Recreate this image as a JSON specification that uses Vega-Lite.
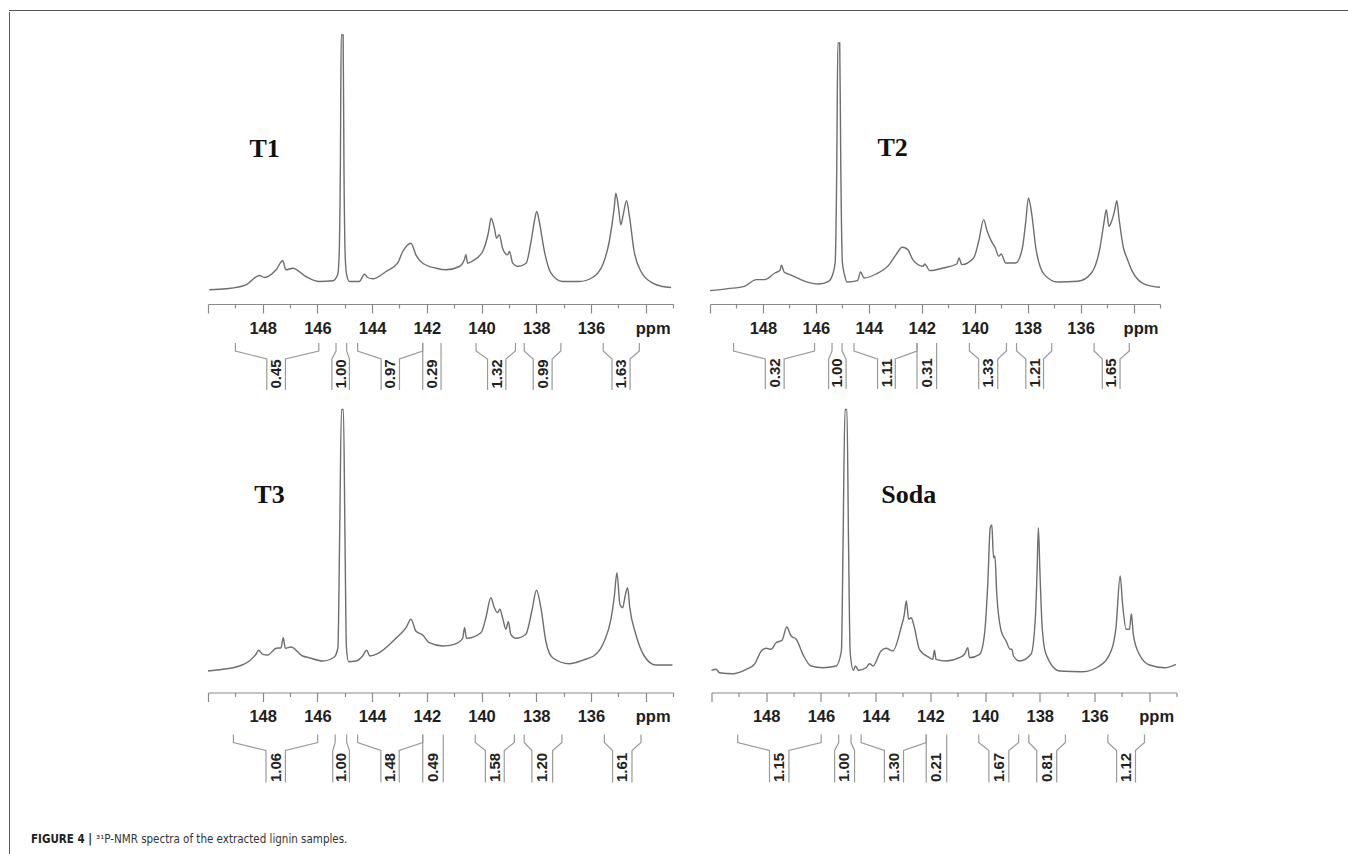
{
"$schema": "https://vega.github.io/schema/vega-lite/v6.json",
"padding": {"left": 8, "top": 10, "right": 0, "bottom": 0},
"background": "white",
"config": {"view": {"stroke": null}},
"title": {"text": "³¹P-NMR spectra of the extracted lignin samples.", "orient": "bottom", "anchor": "start", "frame": "group", "offset": -22, "dx": 87, "font": "Liberation Sans Narrow, DejaVu Sans Condensed, Liberation Sans, sans-serif", "fontSize": 11.5, "fontWeight": "normal", "color": "#333333"},
"datasets": {
"spec": [
{"s":"T1","x":149.95,"y":14.2},{"s":"T1","x":149.34,"y":15.2},{"s":"T1","x":148.61,"y":19.2},{"s":"T1","x":148.12,"y":28.5},{"s":"T1","x":147.94,"y":26.5},{"s":"T1","x":147.51,"y":34.2},{"s":"T1","x":147.27,"y":43.2},{"s":"T1","x":147.15,"y":34.2},{"s":"T1","x":146.9,"y":35.8},{"s":"T1","x":146.42,"y":27.5},{"s":"T1","x":145.93,"y":22.5},{"s":"T1","x":145.44,"y":23.2},{"s":"T1","x":145.26,"y":29.2},{"s":"T1","x":145.21,"y":45},{"s":"T1","x":145.16,"y":140},{"s":"T1","x":145.13,"y":269},{"s":"T1","x":145.06,"y":269},{"s":"T1","x":145.03,"y":140},{"s":"T1","x":144.98,"y":45},{"s":"T1","x":144.93,"y":29.2},{"s":"T1","x":144.83,"y":22.5},{"s":"T1","x":144.47,"y":22.5},{"s":"T1","x":144.28,"y":29.8},{"s":"T1","x":144.16,"y":26.5},{"s":"T1","x":143.98,"y":25.2},{"s":"T1","x":143.49,"y":32.5},{"s":"T1","x":143.07,"y":40.8},{"s":"T1","x":142.88,"y":52.5},{"s":"T1","x":142.58,"y":60.8},{"s":"T1","x":142.4,"y":49.2},{"s":"T1","x":142.15,"y":40.8},{"s":"T1","x":141.66,"y":35.8},{"s":"T1","x":141.3,"y":34.2},{"s":"T1","x":140.81,"y":37.5},{"s":"T1","x":140.63,"y":44.2},{"s":"T1","x":140.57,"y":49.2},{"s":"T1","x":140.51,"y":40.8},{"s":"T1","x":140.32,"y":43.2},{"s":"T1","x":139.96,"y":52.5},{"s":"T1","x":139.74,"y":72.5},{"s":"T1","x":139.65,"y":85.8},{"s":"T1","x":139.53,"y":75.8},{"s":"T1","x":139.45,"y":65.8},{"s":"T1","x":139.35,"y":69.2},{"s":"T1","x":139.23,"y":55.8},{"s":"T1","x":139.05,"y":49.2},{"s":"T1","x":138.98,"y":52.5},{"s":"T1","x":138.86,"y":40.8},{"s":"T1","x":138.68,"y":37.5},{"s":"T1","x":138.37,"y":40.8},{"s":"T1","x":138.19,"y":62.5},{"s":"T1","x":138.07,"y":82.5},{"s":"T1","x":137.98,"y":92.5},{"s":"T1","x":137.89,"y":82.5},{"s":"T1","x":137.7,"y":52.5},{"s":"T1","x":137.46,"y":30.8},{"s":"T1","x":137.04,"y":22.5},{"s":"T1","x":136.43,"y":22.5},{"s":"T1","x":135.94,"y":26.5},{"s":"T1","x":135.57,"y":39.2},{"s":"T1","x":135.33,"y":62.5},{"s":"T1","x":135.15,"y":95.8},{"s":"T1","x":135.09,"y":110.8},{"s":"T1","x":134.99,"y":95.8},{"s":"T1","x":134.91,"y":79.2},{"s":"T1","x":134.82,"y":89.2},{"s":"T1","x":134.7,"y":103.2},{"s":"T1","x":134.6,"y":89.2},{"s":"T1","x":134.42,"y":52.5},{"s":"T1","x":134.17,"y":32.5},{"s":"T1","x":133.74,"y":20.8},{"s":"T1","x":133.38,"y":17.5},{"s":"T1","x":133.07,"y":16.5},
{"s":"T2","x":150.0,"y":13.4},{"s":"T2","x":149.33,"y":15.4},{"s":"T2","x":148.7,"y":17.7},{"s":"T2","x":148.25,"y":24.4},{"s":"T2","x":147.93,"y":24.4},{"s":"T2","x":147.55,"y":31.0},{"s":"T2","x":147.36,"y":33.4},{"s":"T2","x":147.3,"y":38.7},{"s":"T2","x":147.2,"y":32.0},{"s":"T2","x":146.92,"y":28.7},{"s":"T2","x":146.41,"y":22.7},{"s":"T2","x":145.9,"y":20.0},{"s":"T2","x":145.52,"y":22.7},{"s":"T2","x":145.36,"y":30},{"s":"T2","x":145.27,"y":42},{"s":"T2","x":145.21,"y":140},{"s":"T2","x":145.17,"y":261},{"s":"T2","x":145.1,"y":261},{"s":"T2","x":145.06,"y":140},{"s":"T2","x":145.0,"y":42},{"s":"T2","x":144.92,"y":29.4},{"s":"T2","x":144.82,"y":22.0},{"s":"T2","x":144.43,"y":23.4},{"s":"T2","x":144.31,"y":32.0},{"s":"T2","x":144.18,"y":26.0},{"s":"T2","x":143.73,"y":30.0},{"s":"T2","x":143.23,"y":39.4},{"s":"T2","x":142.97,"y":49.4},{"s":"T2","x":142.74,"y":56.7},{"s":"T2","x":142.53,"y":54.4},{"s":"T2","x":142.34,"y":44.4},{"s":"T2","x":141.95,"y":37.7},{"s":"T2","x":141.89,"y":40.0},{"s":"T2","x":141.7,"y":33.4},{"s":"T2","x":141.19,"y":36.0},{"s":"T2","x":140.68,"y":40.0},{"s":"T2","x":140.59,"y":46.0},{"s":"T2","x":140.49,"y":39.4},{"s":"T2","x":140.04,"y":46.0},{"s":"T2","x":139.85,"y":62.7},{"s":"T2","x":139.66,"y":84.4},{"s":"T2","x":139.53,"y":72.7},{"s":"T2","x":139.38,"y":63.4},{"s":"T2","x":139.22,"y":56.0},{"s":"T2","x":139.09,"y":47.7},{"s":"T2","x":139.0,"y":50.0},{"s":"T2","x":138.83,"y":41.0},{"s":"T2","x":138.45,"y":41.0},{"s":"T2","x":138.2,"y":56.0},{"s":"T2","x":138.07,"y":82.7},{"s":"T2","x":137.97,"y":106.0},{"s":"T2","x":137.86,"y":92.7},{"s":"T2","x":137.69,"y":56.0},{"s":"T2","x":137.37,"y":29.4},{"s":"T2","x":136.86,"y":22.0},{"s":"T2","x":136.1,"y":22.7},{"s":"T2","x":135.59,"y":31.0},{"s":"T2","x":135.27,"y":56.0},{"s":"T2","x":135.11,"y":82.7},{"s":"T2","x":135.03,"y":94.4},{"s":"T2","x":134.93,"y":77.7},{"s":"T2","x":134.83,"y":82.7},{"s":"T2","x":134.72,"y":92.7},{"s":"T2","x":134.63,"y":103.4},{"s":"T2","x":134.55,"y":86.0},{"s":"T2","x":134.38,"y":56.0},{"s":"T2","x":134.25,"y":46.0},{"s":"T2","x":134.06,"y":33.4},{"s":"T2","x":133.55,"y":19.4},{"s":"T2","x":133.0,"y":16.7},
{"s":"T3","x":150.0,"y":21.5},{"s":"T3","x":149.46,"y":23.2},{"s":"T3","x":148.85,"y":26.5},{"s":"T3","x":148.49,"y":31.5},{"s":"T3","x":148.25,"y":38.2},{"s":"T3","x":148.15,"y":42.2},{"s":"T3","x":148.0,"y":38.2},{"s":"T3","x":147.82,"y":37.5},{"s":"T3","x":147.51,"y":44.2},{"s":"T3","x":147.33,"y":44.8},{"s":"T3","x":147.25,"y":54.8},{"s":"T3","x":147.17,"y":44.2},{"s":"T3","x":146.97,"y":45.5},{"s":"T3","x":146.54,"y":36.5},{"s":"T3","x":146.3,"y":34.8},{"s":"T3","x":145.81,"y":31.5},{"s":"T3","x":145.38,"y":35.5},{"s":"T3","x":145.25,"y":45},{"s":"T3","x":145.19,"y":150},{"s":"T3","x":145.12,"y":283},{"s":"T3","x":145.05,"y":283},{"s":"T3","x":144.99,"y":150},{"s":"T3","x":144.94,"y":45},{"s":"T3","x":144.86,"y":30.8},{"s":"T3","x":144.59,"y":31.5},{"s":"T3","x":144.35,"y":36.5},{"s":"T3","x":144.2,"y":42.2},{"s":"T3","x":144.08,"y":36.5},{"s":"T3","x":143.8,"y":38.8},{"s":"T3","x":143.13,"y":54.2},{"s":"T3","x":142.76,"y":64.8},{"s":"T3","x":142.58,"y":73.2},{"s":"T3","x":142.4,"y":61.5},{"s":"T3","x":142.15,"y":57.5},{"s":"T3","x":141.91,"y":49.8},{"s":"T3","x":141.42,"y":46.5},{"s":"T3","x":141.0,"y":48.2},{"s":"T3","x":140.69,"y":54.2},{"s":"T3","x":140.62,"y":64.8},{"s":"T3","x":140.55,"y":54.2},{"s":"T3","x":140.02,"y":59.8},{"s":"T3","x":139.84,"y":74.8},{"s":"T3","x":139.66,"y":94.8},{"s":"T3","x":139.53,"y":84.8},{"s":"T3","x":139.41,"y":79.8},{"s":"T3","x":139.33,"y":83.2},{"s":"T3","x":139.23,"y":74.8},{"s":"T3","x":139.11,"y":63.2},{"s":"T3","x":139.02,"y":70.8},{"s":"T3","x":138.93,"y":58.2},{"s":"T3","x":138.74,"y":54.2},{"s":"T3","x":138.38,"y":58.2},{"s":"T3","x":138.16,"y":81.5},{"s":"T3","x":137.99,"y":102.2},{"s":"T3","x":137.83,"y":84.8},{"s":"T3","x":137.65,"y":51.5},{"s":"T3","x":137.4,"y":34.8},{"s":"T3","x":136.79,"y":28.8},{"s":"T3","x":136.31,"y":32.2},{"s":"T3","x":135.82,"y":38.2},{"s":"T3","x":135.51,"y":51.5},{"s":"T3","x":135.27,"y":73.2},{"s":"T3","x":135.15,"y":94.8},{"s":"T3","x":135.05,"y":119.8},{"s":"T3","x":134.94,"y":88.2},{"s":"T3","x":134.84,"y":84.8},{"s":"T3","x":134.75,"y":96.5},{"s":"T3","x":134.66,"y":104.8},{"s":"T3","x":134.58,"y":84.8},{"s":"T3","x":134.36,"y":58.2},{"s":"T3","x":134.05,"y":36.5},{"s":"T3","x":133.63,"y":27.5},{"s":"T3","x":133.02,"y":27.5},
{"s":"Soda","x":150.0,"y":22.2},{"s":"Soda","x":149.83,"y":23.2},{"s":"Soda","x":149.71,"y":19.8},{"s":"Soda","x":149.22,"y":18.8},{"s":"Soda","x":148.73,"y":23.2},{"s":"Soda","x":148.43,"y":28.2},{"s":"Soda","x":148.18,"y":41.5},{"s":"Soda","x":148.0,"y":44.2},{"s":"Soda","x":147.82,"y":43.2},{"s":"Soda","x":147.64,"y":49.8},{"s":"Soda","x":147.42,"y":52.2},{"s":"Soda","x":147.25,"y":65.5},{"s":"Soda","x":147.09,"y":56.5},{"s":"Soda","x":146.9,"y":53.2},{"s":"Soda","x":146.66,"y":38.2},{"s":"Soda","x":146.36,"y":26.5},{"s":"Soda","x":145.93,"y":24.8},{"s":"Soda","x":145.44,"y":26.5},{"s":"Soda","x":145.25,"y":42},{"s":"Soda","x":145.19,"y":150},{"s":"Soda","x":145.12,"y":283},{"s":"Soda","x":145.05,"y":283},{"s":"Soda","x":144.99,"y":150},{"s":"Soda","x":144.93,"y":40},{"s":"Soda","x":144.81,"y":22.2},{"s":"Soda","x":144.74,"y":26.5},{"s":"Soda","x":144.62,"y":22.2},{"s":"Soda","x":144.35,"y":24.8},{"s":"Soda","x":144.22,"y":28.8},{"s":"Soda","x":144.1,"y":26.5},{"s":"Soda","x":143.8,"y":41.5},{"s":"Soda","x":143.62,"y":44.2},{"s":"Soda","x":143.37,"y":41.5},{"s":"Soda","x":143.07,"y":64.8},{"s":"Soda","x":142.95,"y":78.2},{"s":"Soda","x":142.88,"y":91.5},{"s":"Soda","x":142.79,"y":73.2},{"s":"Soda","x":142.7,"y":74.8},{"s":"Soda","x":142.58,"y":64.8},{"s":"Soda","x":142.4,"y":43.2},{"s":"Soda","x":142.03,"y":34.8},{"s":"Soda","x":141.91,"y":33.2},{"s":"Soda","x":141.85,"y":42.2},{"s":"Soda","x":141.79,"y":33.2},{"s":"Soda","x":141.42,"y":31.5},{"s":"Soda","x":140.94,"y":34.8},{"s":"Soda","x":140.75,"y":38.2},{"s":"Soda","x":140.63,"y":44.8},{"s":"Soda","x":140.57,"y":34.8},{"s":"Soda","x":140.2,"y":38.2},{"s":"Soda","x":140.02,"y":58.2},{"s":"Soda","x":139.9,"y":108.2},{"s":"Soda","x":139.81,"y":164.8},{"s":"Soda","x":139.75,"y":167.5},{"s":"Soda","x":139.69,"y":134.8},{"s":"Soda","x":139.64,"y":136.5},{"s":"Soda","x":139.57,"y":98.2},{"s":"Soda","x":139.41,"y":61.5},{"s":"Soda","x":139.23,"y":51.5},{"s":"Soda","x":139.08,"y":43.2},{"s":"Soda","x":139.02,"y":43.2},{"s":"Soda","x":138.96,"y":36.5},{"s":"Soda","x":138.74,"y":31.5},{"s":"Soda","x":138.32,"y":38.2},{"s":"Soda","x":138.16,"y":74.8},{"s":"Soda","x":138.1,"y":118.2},{"s":"Soda","x":138.05,"y":164.8},{"s":"Soda","x":137.99,"y":118.2},{"s":"Soda","x":137.91,"y":64.8},{"s":"Soda","x":137.77,"y":38.2},{"s":"Soda","x":137.28,"y":21.5},{"s":"Soda","x":136.43,"y":20.8},{"s":"Soda","x":135.82,"y":26.5},{"s":"Soda","x":135.39,"y":41.5},{"s":"Soda","x":135.21,"y":65.5},{"s":"Soda","x":135.06,"y":116.5},{"s":"Soda","x":134.97,"y":88.2},{"s":"Soda","x":134.84,"y":63.2},{"s":"Soda","x":134.72,"y":63.2},{"s":"Soda","x":134.65,"y":78.8},{"s":"Soda","x":134.58,"y":58.2},{"s":"Soda","x":134.36,"y":38.2},{"s":"Soda","x":133.99,"y":27.5},{"s":"Soda","x":133.43,"y":24.8},{"s":"Soda","x":133.02,"y":28.2}
],
"br": [
{"s":"T1","k":"aL","o":0,"x":149.0,"y":-39},{"s":"T1","k":"aL","o":1,"x":149.0,"y":-47},{"s":"T1","k":"aL","o":2,"x":147.85,"y":-55},{"s":"T1","k":"aL","o":3,"x":147.85,"y":-86},
{"s":"T1","k":"aR","o":0,"x":145.95,"y":-39},{"s":"T1","k":"aR","o":1,"x":145.95,"y":-47},{"s":"T1","k":"aR","o":2,"x":147.17,"y":-55},{"s":"T1","k":"aR","o":3,"x":147.17,"y":-86},
{"s":"T1","k":"bL","o":0,"x":145.32,"y":-39},{"s":"T1","k":"bL","o":1,"x":145.32,"y":-47},{"s":"T1","k":"bL","o":2,"x":145.47,"y":-55},{"s":"T1","k":"bL","o":3,"x":145.47,"y":-86},
{"s":"T1","k":"bR","o":0,"x":144.93,"y":-39},{"s":"T1","k":"bR","o":1,"x":144.93,"y":-47},{"s":"T1","k":"bR","o":2,"x":144.83,"y":-55},{"s":"T1","k":"bR","o":3,"x":144.83,"y":-86},
{"s":"T1","k":"cL","o":0,"x":144.53,"y":-39},{"s":"T1","k":"cL","o":1,"x":144.53,"y":-47},{"s":"T1","k":"cL","o":2,"x":143.67,"y":-55},{"s":"T1","k":"cL","o":3,"x":143.67,"y":-86},
{"s":"T1","k":"cR","o":0,"x":142.15,"y":-39},{"s":"T1","k":"cR","o":1,"x":142.15,"y":-47},{"s":"T1","k":"cR","o":2,"x":143.0,"y":-55},{"s":"T1","k":"cR","o":3,"x":143.0,"y":-86},
{"s":"T1","k":"dL","o":0,"x":142.15,"y":-39},{"s":"T1","k":"dL","o":1,"x":142.15,"y":-86},
{"s":"T1","k":"dR","o":0,"x":141.48,"y":-39},{"s":"T1","k":"dR","o":1,"x":141.48,"y":-86},
{"s":"T1","k":"eL","o":0,"x":140.2,"y":-39},{"s":"T1","k":"eL","o":1,"x":140.2,"y":-47},{"s":"T1","k":"eL","o":2,"x":139.78,"y":-55},{"s":"T1","k":"eL","o":3,"x":139.78,"y":-86},
{"s":"T1","k":"eR","o":0,"x":138.76,"y":-39},{"s":"T1","k":"eR","o":1,"x":138.76,"y":-47},{"s":"T1","k":"eR","o":2,"x":139.11,"y":-55},{"s":"T1","k":"eR","o":3,"x":139.11,"y":-86},
{"s":"T1","k":"fL","o":0,"x":138.44,"y":-39},{"s":"T1","k":"fL","o":1,"x":138.44,"y":-47},{"s":"T1","k":"fL","o":2,"x":138.11,"y":-55},{"s":"T1","k":"fL","o":3,"x":138.11,"y":-86},
{"s":"T1","k":"fR","o":0,"x":137.1,"y":-39},{"s":"T1","k":"fR","o":1,"x":137.1,"y":-47},{"s":"T1","k":"fR","o":2,"x":137.42,"y":-55},{"s":"T1","k":"fR","o":3,"x":137.42,"y":-86},
{"s":"T1","k":"gL","o":0,"x":135.55,"y":-39},{"s":"T1","k":"gL","o":1,"x":135.55,"y":-47},{"s":"T1","k":"gL","o":2,"x":135.23,"y":-55},{"s":"T1","k":"gL","o":3,"x":135.23,"y":-86},
{"s":"T1","k":"gR","o":0,"x":134.23,"y":-39},{"s":"T1","k":"gR","o":1,"x":134.23,"y":-47},{"s":"T1","k":"gR","o":2,"x":134.57,"y":-55},{"s":"T1","k":"gR","o":3,"x":134.57,"y":-86},
{"s":"T2","k":"aL","o":0,"x":149.11,"y":-39},{"s":"T2","k":"aL","o":1,"x":149.11,"y":-47},{"s":"T2","k":"aL","o":2,"x":147.91,"y":-55},{"s":"T2","k":"aL","o":3,"x":147.91,"y":-85},
{"s":"T2","k":"aR","o":0,"x":146.05,"y":-39},{"s":"T2","k":"aR","o":1,"x":146.05,"y":-47},{"s":"T2","k":"aR","o":2,"x":147.2,"y":-55},{"s":"T2","k":"aR","o":3,"x":147.2,"y":-85},
{"s":"T2","k":"bL","o":0,"x":145.39,"y":-39},{"s":"T2","k":"bL","o":1,"x":145.39,"y":-47},{"s":"T2","k":"bL","o":2,"x":145.52,"y":-55},{"s":"T2","k":"bL","o":3,"x":145.52,"y":-85},
{"s":"T2","k":"bR","o":0,"x":145.01,"y":-39},{"s":"T2","k":"bR","o":1,"x":145.01,"y":-47},{"s":"T2","k":"bR","o":2,"x":144.86,"y":-55},{"s":"T2","k":"bR","o":3,"x":144.86,"y":-85},
{"s":"T2","k":"cL","o":0,"x":144.56,"y":-39},{"s":"T2","k":"cL","o":1,"x":144.56,"y":-47},{"s":"T2","k":"cL","o":2,"x":143.67,"y":-55},{"s":"T2","k":"cL","o":3,"x":143.67,"y":-85},
{"s":"T2","k":"cR","o":0,"x":142.18,"y":-39},{"s":"T2","k":"cR","o":1,"x":142.18,"y":-47},{"s":"T2","k":"cR","o":2,"x":143.0,"y":-55},{"s":"T2","k":"cR","o":3,"x":143.0,"y":-85},
{"s":"T2","k":"dL","o":0,"x":142.18,"y":-39},{"s":"T2","k":"dL","o":1,"x":142.18,"y":-85},
{"s":"T2","k":"dR","o":0,"x":141.44,"y":-39},{"s":"T2","k":"dR","o":1,"x":141.44,"y":-85},
{"s":"T2","k":"eL","o":0,"x":140.2,"y":-39},{"s":"T2","k":"eL","o":1,"x":140.2,"y":-47},{"s":"T2","k":"eL","o":2,"x":139.85,"y":-55},{"s":"T2","k":"eL","o":3,"x":139.85,"y":-85},
{"s":"T2","k":"eR","o":0,"x":138.8,"y":-39},{"s":"T2","k":"eR","o":1,"x":138.8,"y":-47},{"s":"T2","k":"eR","o":2,"x":139.13,"y":-55},{"s":"T2","k":"eR","o":3,"x":139.13,"y":-85},
{"s":"T2","k":"fL","o":0,"x":138.42,"y":-39},{"s":"T2","k":"fL","o":1,"x":138.42,"y":-47},{"s":"T2","k":"fL","o":2,"x":138.07,"y":-55},{"s":"T2","k":"fL","o":3,"x":138.07,"y":-85},
{"s":"T2","k":"fR","o":0,"x":137.09,"y":-39},{"s":"T2","k":"fR","o":1,"x":137.09,"y":-47},{"s":"T2","k":"fR","o":2,"x":137.4,"y":-55},{"s":"T2","k":"fR","o":3,"x":137.4,"y":-85},
{"s":"T2","k":"gL","o":0,"x":135.49,"y":-39},{"s":"T2","k":"gL","o":1,"x":135.49,"y":-47},{"s":"T2","k":"gL","o":2,"x":135.18,"y":-55},{"s":"T2","k":"gL","o":3,"x":135.18,"y":-85},
{"s":"T2","k":"gR","o":0,"x":134.16,"y":-39},{"s":"T2","k":"gR","o":1,"x":134.16,"y":-47},{"s":"T2","k":"gR","o":2,"x":134.51,"y":-55},{"s":"T2","k":"gR","o":3,"x":134.51,"y":-85},
{"s":"T3","k":"aL","o":0,"x":149.07,"y":-42},{"s":"T3","k":"aL","o":1,"x":149.07,"y":-50},{"s":"T3","k":"aL","o":2,"x":147.88,"y":-58},{"s":"T3","k":"aL","o":3,"x":147.88,"y":-90},
{"s":"T3","k":"aR","o":0,"x":145.99,"y":-42},{"s":"T3","k":"aR","o":1,"x":145.99,"y":-50},{"s":"T3","k":"aR","o":2,"x":147.17,"y":-58},{"s":"T3","k":"aR","o":3,"x":147.17,"y":-90},
{"s":"T3","k":"bL","o":0,"x":145.35,"y":-42},{"s":"T3","k":"bL","o":1,"x":145.35,"y":-50},{"s":"T3","k":"bL","o":2,"x":145.44,"y":-58},{"s":"T3","k":"bL","o":3,"x":145.44,"y":-90},
{"s":"T3","k":"bR","o":0,"x":144.93,"y":-42},{"s":"T3","k":"bR","o":1,"x":144.93,"y":-50},{"s":"T3","k":"bR","o":2,"x":144.83,"y":-58},{"s":"T3","k":"bR","o":3,"x":144.83,"y":-90},
{"s":"T3","k":"cL","o":0,"x":144.53,"y":-42},{"s":"T3","k":"cL","o":1,"x":144.53,"y":-50},{"s":"T3","k":"cL","o":2,"x":143.68,"y":-58},{"s":"T3","k":"cL","o":3,"x":143.68,"y":-90},
{"s":"T3","k":"cR","o":0,"x":142.15,"y":-42},{"s":"T3","k":"cR","o":1,"x":142.15,"y":-50},{"s":"T3","k":"cR","o":2,"x":143.01,"y":-58},{"s":"T3","k":"cR","o":3,"x":143.01,"y":-90},
{"s":"T3","k":"dL","o":0,"x":142.15,"y":-42},{"s":"T3","k":"dL","o":1,"x":142.15,"y":-90},
{"s":"T3","k":"dR","o":0,"x":141.4,"y":-42},{"s":"T3","k":"dR","o":1,"x":141.4,"y":-90},
{"s":"T3","k":"eL","o":0,"x":140.23,"y":-42},{"s":"T3","k":"eL","o":1,"x":140.23,"y":-50},{"s":"T3","k":"eL","o":2,"x":139.86,"y":-58},{"s":"T3","k":"eL","o":3,"x":139.86,"y":-90},
{"s":"T3","k":"eR","o":0,"x":138.8,"y":-42},{"s":"T3","k":"eR","o":1,"x":138.8,"y":-50},{"s":"T3","k":"eR","o":2,"x":139.17,"y":-58},{"s":"T3","k":"eR","o":3,"x":139.17,"y":-90},
{"s":"T3","k":"fL","o":0,"x":138.44,"y":-42},{"s":"T3","k":"fL","o":1,"x":138.44,"y":-50},{"s":"T3","k":"fL","o":2,"x":138.16,"y":-58},{"s":"T3","k":"fL","o":3,"x":138.16,"y":-90},
{"s":"T3","k":"fR","o":0,"x":137.06,"y":-42},{"s":"T3","k":"fR","o":1,"x":137.06,"y":-50},{"s":"T3","k":"fR","o":2,"x":137.4,"y":-58},{"s":"T3","k":"fR","o":3,"x":137.4,"y":-90},
{"s":"T3","k":"gL","o":0,"x":135.51,"y":-42},{"s":"T3","k":"gL","o":1,"x":135.51,"y":-50},{"s":"T3","k":"gL","o":2,"x":135.21,"y":-58},{"s":"T3","k":"gL","o":3,"x":135.21,"y":-90},
{"s":"T3","k":"gR","o":0,"x":134.17,"y":-42},{"s":"T3","k":"gR","o":1,"x":134.17,"y":-50},{"s":"T3","k":"gR","o":2,"x":134.5,"y":-58},{"s":"T3","k":"gR","o":3,"x":134.5,"y":-90},
{"s":"Soda","k":"aL","o":0,"x":149.04,"y":-42},{"s":"Soda","k":"aL","o":1,"x":149.04,"y":-50},{"s":"Soda","k":"aL","o":2,"x":147.88,"y":-58},{"s":"Soda","k":"aL","o":3,"x":147.88,"y":-90},
{"s":"Soda","k":"aR","o":0,"x":145.99,"y":-42},{"s":"Soda","k":"aR","o":1,"x":145.99,"y":-50},{"s":"Soda","k":"aR","o":2,"x":147.17,"y":-58},{"s":"Soda","k":"aR","o":3,"x":147.17,"y":-90},
{"s":"Soda","k":"bL","o":0,"x":145.35,"y":-42},{"s":"Soda","k":"bL","o":1,"x":145.35,"y":-50},{"s":"Soda","k":"bL","o":2,"x":145.5,"y":-58},{"s":"Soda","k":"bL","o":3,"x":145.5,"y":-90},
{"s":"Soda","k":"bR","o":0,"x":144.9,"y":-42},{"s":"Soda","k":"bR","o":1,"x":144.9,"y":-50},{"s":"Soda","k":"bR","o":2,"x":144.77,"y":-58},{"s":"Soda","k":"bR","o":3,"x":144.77,"y":-90},
{"s":"Soda","k":"cL","o":0,"x":144.53,"y":-42},{"s":"Soda","k":"cL","o":1,"x":144.53,"y":-50},{"s":"Soda","k":"cL","o":2,"x":143.68,"y":-58},{"s":"Soda","k":"cL","o":3,"x":143.68,"y":-90},
{"s":"Soda","k":"cR","o":0,"x":142.15,"y":-42},{"s":"Soda","k":"cR","o":1,"x":142.15,"y":-50},{"s":"Soda","k":"cR","o":2,"x":142.98,"y":-58},{"s":"Soda","k":"cR","o":3,"x":142.98,"y":-90},
{"s":"Soda","k":"dL","o":0,"x":142.15,"y":-42},{"s":"Soda","k":"dL","o":1,"x":142.15,"y":-90},
{"s":"Soda","k":"dR","o":0,"x":141.4,"y":-42},{"s":"Soda","k":"dR","o":1,"x":141.4,"y":-90},
{"s":"Soda","k":"eL","o":0,"x":140.23,"y":-42},{"s":"Soda","k":"eL","o":1,"x":140.23,"y":-50},{"s":"Soda","k":"eL","o":2,"x":139.86,"y":-58},{"s":"Soda","k":"eL","o":3,"x":139.86,"y":-90},
{"s":"Soda","k":"eR","o":0,"x":138.77,"y":-42},{"s":"Soda","k":"eR","o":1,"x":138.77,"y":-50},{"s":"Soda","k":"eR","o":2,"x":139.13,"y":-58},{"s":"Soda","k":"eR","o":3,"x":139.13,"y":-90},
{"s":"Soda","k":"fL","o":0,"x":138.4,"y":-42},{"s":"Soda","k":"fL","o":1,"x":138.4,"y":-50},{"s":"Soda","k":"fL","o":2,"x":138.11,"y":-58},{"s":"Soda","k":"fL","o":3,"x":138.11,"y":-90},
{"s":"Soda","k":"fR","o":0,"x":137.06,"y":-42},{"s":"Soda","k":"fR","o":1,"x":137.06,"y":-50},{"s":"Soda","k":"fR","o":2,"x":137.38,"y":-58},{"s":"Soda","k":"fR","o":3,"x":137.38,"y":-90},
{"s":"Soda","k":"gL","o":0,"x":135.51,"y":-42},{"s":"Soda","k":"gL","o":1,"x":135.51,"y":-50},{"s":"Soda","k":"gL","o":2,"x":135.19,"y":-58},{"s":"Soda","k":"gL","o":3,"x":135.19,"y":-90},
{"s":"Soda","k":"gR","o":0,"x":134.17,"y":-42},{"s":"Soda","k":"gR","o":1,"x":134.17,"y":-50},{"s":"Soda","k":"gR","o":2,"x":134.5,"y":-58},{"s":"Soda","k":"gR","o":3,"x":134.5,"y":-90}
],
"bl": [
{"s":"T1","t":"0.45","x":147.51,"y":-70},{"s":"T1","t":"1.00","x":145.15,"y":-70},{"s":"T1","t":"0.97","x":143.34,"y":-70},{"s":"T1","t":"0.29","x":141.82,"y":-70},{"s":"T1","t":"1.32","x":139.45,"y":-70},{"s":"T1","t":"0.99","x":137.77,"y":-70},{"s":"T1","t":"1.63","x":134.9,"y":-70},
{"s":"T2","t":"0.32","x":147.55,"y":-69},{"s":"T2","t":"1.00","x":145.19,"y":-69},{"s":"T2","t":"1.11","x":143.33,"y":-69},{"s":"T2","t":"0.31","x":141.81,"y":-69},{"s":"T2","t":"1.33","x":139.49,"y":-69},{"s":"T2","t":"1.21","x":137.73,"y":-69},{"s":"T2","t":"1.65","x":134.85,"y":-69},
{"s":"T3","t":"1.06","x":147.53,"y":-75},{"s":"T3","t":"1.00","x":145.14,"y":-75},{"s":"T3","t":"1.48","x":143.34,"y":-75},{"s":"T3","t":"0.49","x":141.78,"y":-75},{"s":"T3","t":"1.58","x":139.52,"y":-75},{"s":"T3","t":"1.20","x":137.78,"y":-75},{"s":"T3","t":"1.61","x":134.86,"y":-75},
{"s":"Soda","t":"1.15","x":147.53,"y":-75},{"s":"Soda","t":"1.00","x":145.14,"y":-75},{"s":"Soda","t":"1.30","x":143.33,"y":-75},{"s":"Soda","t":"0.21","x":141.78,"y":-75},{"s":"Soda","t":"1.67","x":139.5,"y":-75},{"s":"Soda","t":"0.81","x":137.74,"y":-75},{"s":"Soda","t":"1.12","x":134.84,"y":-75}
],
"nm": [
{"s":"T1","t":"T1","x":147.93,"y":155},{"s":"T2","t":"T2","x":143.1,"y":156},{"s":"T3","t":"T3","x":147.75,"y":198},{"s":"Soda","t":"Soda","x":142.79,"y":198}
]
},
"spacing": 0,
"vconcat": [
{"width": 1340, "height": 1, "data": {"values": [{"from": 0, "to": 1}]}, "mark": {"type": "rule", "color": "#555555", "strokeWidth": 1}, "encoding": {"x": {"field": "from", "type": "quantitative", "scale": {"domain": [0, 1]}, "axis": null}, "x2": {"field": "to"}}},
{"title": {"text": "FIGURE 4 |", "orient": "bottom", "anchor": "start", "frame": "group", "offset": -22, "dx": 22, "font": "Liberation Sans Narrow, DejaVu Sans Condensed, Liberation Sans, sans-serif", "fontSize": 11.5, "fontWeight": "bold", "color": "#222222"},
 "spacing": 195,
 "hconcat": [
  {"width": 1, "height": 843, "data": {"values": [{"from": 0, "to": 1}]}, "mark": {"type": "rule", "color": "#555555", "strokeWidth": 1}, "encoding": {"y": {"field": "from", "type": "quantitative", "scale": {"domain": [0, 1]}, "axis": null}, "y2": {"field": "to"}}},
  {"spacing": 8.5, "vconcat": [
   {"spacing": 33, "hconcat": [
    {"width": 465, "height": 384,
     "encoding": {"x": {"field": "x", "type": "quantitative", "scale": {"domain": [150, 133], "nice": false, "zero": false}, "axis": {"offset": -92, "values": [150,149,148,147,146,145,144,143,142,141,140,139,138,137,136,135,134,133], "labelExpr": "datum.value === 134 ? 'ppm' : (datum.value % 2 === 0 && datum.value >= 136 && datum.value <= 148 ? datum.label : '')", "labelOffset": {"condition": {"test": "datum.value === 134", "value": 7}, "value": 0}, "tickSize": {"condition": {"test": "datum.value % 2 === 0", "value": 9}, "value": 4}, "labelPadding": 7, "labelFont": "Liberation Sans", "labelFontSize": 16.5, "labelFontWeight": "bold", "labelColor": "#1e1e1e", "domainColor": "#8a8a8a", "tickColor": "#8a8a8a", "domainWidth": 1.2, "tickWidth": 1.2, "title": null, "grid": false, "labelFlush": false, "labelOverlap": false}},
                  "y": {"field": "y", "type": "quantitative", "scale": {"domain": [-92, 292], "nice": false, "zero": false}, "axis": null}},
     "layer": [
      {"data": {"name": "spec"}, "transform": [{"filter": "datum.s === 'T1'"}], "mark": {"type": "line", "color": "#6e6e6e", "strokeWidth": 1.4, "interpolate": "monotone"}},
      {"data": {"name": "br"}, "transform": [{"filter": "datum.s === 'T1'"}], "mark": {"type": "line", "color": "#9a9a9a", "strokeWidth": 1.2}, "encoding": {"detail": {"field": "k", "type": "nominal"}, "order": {"field": "o", "type": "quantitative"}}},
      {"data": {"name": "bl"}, "transform": [{"filter": "datum.s === 'T1'"}], "mark": {"type": "text", "angle": 270, "font": "Liberation Sans", "fontSize": 15, "fontWeight": "bold", "color": "#222222", "align": "center", "baseline": "middle"}, "encoding": {"text": {"field": "t"}}},
      {"data": {"name": "nm"}, "transform": [{"filter": "datum.s === 'T1'"}], "mark": {"type": "text", "font": "Liberation Serif", "fontSize": 26, "fontWeight": "bold", "color": "#111111", "align": "center", "baseline": "middle"}, "encoding": {"text": {"field": "t"}}}
     ]},
    {"width": 450, "height": 384,
     "encoding": {"x": {"field": "x", "type": "quantitative", "scale": {"domain": [150, 133], "nice": false, "zero": false}, "axis": {"offset": -92, "values": [150,149,148,147,146,145,144,143,142,141,140,139,138,137,136,135,134,133], "labelExpr": "datum.value === 134 ? 'ppm' : (datum.value % 2 === 0 && datum.value >= 136 && datum.value <= 148 ? datum.label : '')", "labelOffset": {"condition": {"test": "datum.value === 134", "value": 7}, "value": 0}, "tickSize": {"condition": {"test": "datum.value % 2 === 0", "value": 9}, "value": 4}, "labelPadding": 7, "labelFont": "Liberation Sans", "labelFontSize": 16.5, "labelFontWeight": "bold", "labelColor": "#1e1e1e", "domainColor": "#8a8a8a", "tickColor": "#8a8a8a", "domainWidth": 1.2, "tickWidth": 1.2, "title": null, "grid": false, "labelFlush": false, "labelOverlap": false}},
                  "y": {"field": "y", "type": "quantitative", "scale": {"domain": [-92, 292], "nice": false, "zero": false}, "axis": null}},
     "layer": [
      {"data": {"name": "spec"}, "transform": [{"filter": "datum.s === 'T2'"}], "mark": {"type": "line", "color": "#6e6e6e", "strokeWidth": 1.4, "interpolate": "monotone"}},
      {"data": {"name": "br"}, "transform": [{"filter": "datum.s === 'T2'"}], "mark": {"type": "line", "color": "#9a9a9a", "strokeWidth": 1.2}, "encoding": {"detail": {"field": "k", "type": "nominal"}, "order": {"field": "o", "type": "quantitative"}}},
      {"data": {"name": "bl"}, "transform": [{"filter": "datum.s === 'T2'"}], "mark": {"type": "text", "angle": 270, "font": "Liberation Sans", "fontSize": 15, "fontWeight": "bold", "color": "#222222", "align": "center", "baseline": "middle"}, "encoding": {"text": {"field": "t"}}},
      {"data": {"name": "nm"}, "transform": [{"filter": "datum.s === 'T2'"}], "mark": {"type": "text", "font": "Liberation Serif", "fontSize": 26, "fontWeight": "bold", "color": "#111111", "align": "center", "baseline": "middle"}, "encoding": {"text": {"field": "t"}}}
     ]}
   ]},
   {"spacing": 32.5, "hconcat": [
    {"width": 465, "height": 383,
     "encoding": {"x": {"field": "x", "type": "quantitative", "scale": {"domain": [150, 133], "nice": false, "zero": false}, "axis": {"offset": -95, "values": [150,149,148,147,146,145,144,143,142,141,140,139,138,137,136,135,134,133], "labelExpr": "datum.value === 134 ? 'ppm' : (datum.value % 2 === 0 && datum.value >= 136 && datum.value <= 148 ? datum.label : '')", "labelOffset": {"condition": {"test": "datum.value === 134", "value": 7}, "value": 0}, "tickSize": {"condition": {"test": "datum.value % 2 === 0", "value": 9}, "value": 4}, "labelPadding": 7, "labelFont": "Liberation Sans", "labelFontSize": 16.5, "labelFontWeight": "bold", "labelColor": "#1e1e1e", "domainColor": "#8a8a8a", "tickColor": "#8a8a8a", "domainWidth": 1.2, "tickWidth": 1.2, "title": null, "grid": false, "labelFlush": false, "labelOverlap": false}},
                  "y": {"field": "y", "type": "quantitative", "scale": {"domain": [-95, 288], "nice": false, "zero": false}, "axis": null}},
     "layer": [
      {"data": {"name": "spec"}, "transform": [{"filter": "datum.s === 'T3'"}], "mark": {"type": "line", "color": "#6e6e6e", "strokeWidth": 1.4, "interpolate": "monotone"}},
      {"data": {"name": "br"}, "transform": [{"filter": "datum.s === 'T3'"}], "mark": {"type": "line", "color": "#9a9a9a", "strokeWidth": 1.2}, "encoding": {"detail": {"field": "k", "type": "nominal"}, "order": {"field": "o", "type": "quantitative"}}},
      {"data": {"name": "bl"}, "transform": [{"filter": "datum.s === 'T3'"}], "mark": {"type": "text", "angle": 270, "font": "Liberation Sans", "fontSize": 15, "fontWeight": "bold", "color": "#222222", "align": "center", "baseline": "middle"}, "encoding": {"text": {"field": "t"}}},
      {"data": {"name": "nm"}, "transform": [{"filter": "datum.s === 'T3'"}], "mark": {"type": "text", "font": "Liberation Serif", "fontSize": 26, "fontWeight": "bold", "color": "#111111", "align": "center", "baseline": "middle"}, "encoding": {"text": {"field": "t"}}}
     ]},
    {"width": 465, "height": 383,
     "encoding": {"x": {"field": "x", "type": "quantitative", "scale": {"domain": [150, 133], "nice": false, "zero": false}, "axis": {"offset": -95, "values": [150,149,148,147,146,145,144,143,142,141,140,139,138,137,136,135,134,133], "labelExpr": "datum.value === 134 ? 'ppm' : (datum.value % 2 === 0 && datum.value >= 136 && datum.value <= 148 ? datum.label : '')", "labelOffset": {"condition": {"test": "datum.value === 134", "value": 7}, "value": 0}, "tickSize": {"condition": {"test": "datum.value % 2 === 0", "value": 9}, "value": 4}, "labelPadding": 7, "labelFont": "Liberation Sans", "labelFontSize": 16.5, "labelFontWeight": "bold", "labelColor": "#1e1e1e", "domainColor": "#8a8a8a", "tickColor": "#8a8a8a", "domainWidth": 1.2, "tickWidth": 1.2, "title": null, "grid": false, "labelFlush": false, "labelOverlap": false}},
                  "y": {"field": "y", "type": "quantitative", "scale": {"domain": [-95, 288], "nice": false, "zero": false}, "axis": null}},
     "layer": [
      {"data": {"name": "spec"}, "transform": [{"filter": "datum.s === 'Soda'"}], "mark": {"type": "line", "color": "#6e6e6e", "strokeWidth": 1.4, "interpolate": "monotone"}},
      {"data": {"name": "br"}, "transform": [{"filter": "datum.s === 'Soda'"}], "mark": {"type": "line", "color": "#9a9a9a", "strokeWidth": 1.2}, "encoding": {"detail": {"field": "k", "type": "nominal"}, "order": {"field": "o", "type": "quantitative"}}},
      {"data": {"name": "bl"}, "transform": [{"filter": "datum.s === 'Soda'"}], "mark": {"type": "text", "angle": 270, "font": "Liberation Sans", "fontSize": 15, "fontWeight": "bold", "color": "#222222", "align": "center", "baseline": "middle"}, "encoding": {"text": {"field": "t"}}},
      {"data": {"name": "nm"}, "transform": [{"filter": "datum.s === 'Soda'"}], "mark": {"type": "text", "font": "Liberation Serif", "fontSize": 26, "fontWeight": "bold", "color": "#111111", "align": "center", "baseline": "middle"}, "encoding": {"text": {"field": "t"}}}
     ]}
   ]}
  ]}
 ]}
]
}
